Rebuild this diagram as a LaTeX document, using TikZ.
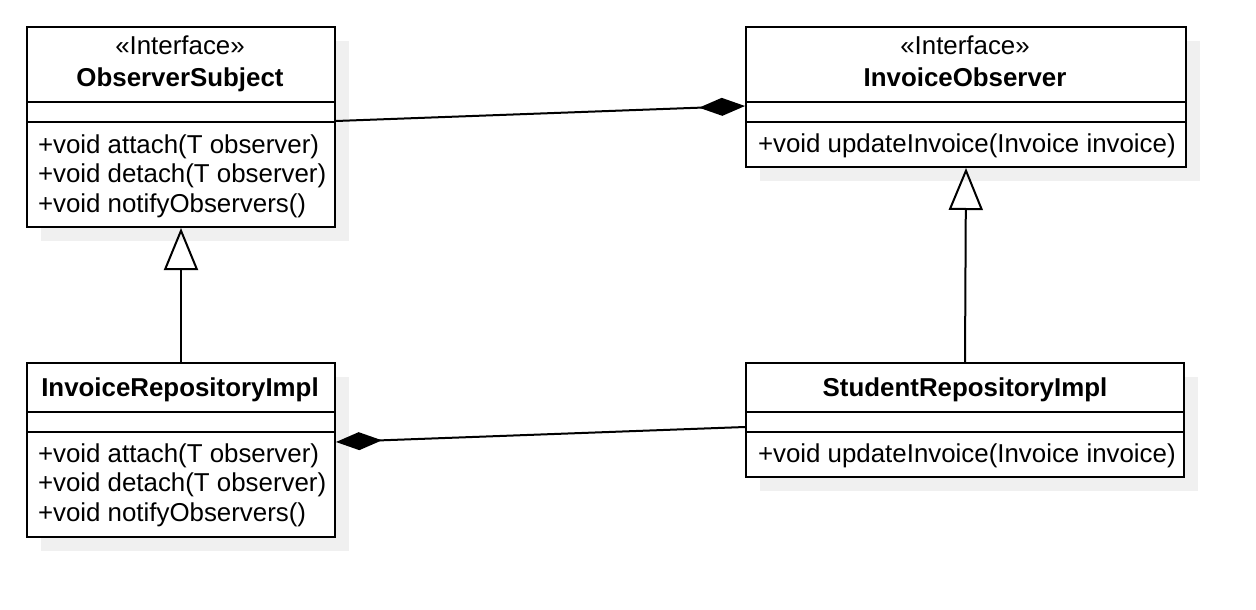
\documentclass[tikz,border=0pt]{standalone}
\usepackage{fontspec}
\setmainfont{Liberation Sans}
\usetikzlibrary{arrows.meta,shadows}

\definecolor{shadowgray}{RGB}{240,240,240}
\newcommand{\umlfont}{\fontsize{19.4}{21}\selectfont}

\tikzset{every picture/.style={line width=1.5pt}}
\tikzset{
  umlbox/.style={draw, fill=white, anchor=north west, inner sep=0pt,
    drop shadow={shadow xshift=10.5pt, shadow yshift=-10.5pt, fill=shadowgray, opacity=1}},
  txt/.style={inner sep=0pt, font=\umlfont},
  ttl/.style={inner sep=0pt, font=\umlfont\bfseries},
  inherit/.style={-{Triangle[open, length=31.5pt, width=25.5pt]}},
  compo/.style={-{Diamond[length=34.5pt, width=13.5pt]}}
}

\begin{document}
\begin{tikzpicture}[x=0.75pt,y=0.75pt,yscale=-1,xscale=1]
\useasboundingbox (0,0) rectangle (1256,610);

%Class boxes
\node [umlbox, minimum width=231pt, minimum height=150pt] (os) at (26,26) {};
\node [umlbox, minimum width=330pt, minimum height=105pt] (io) at (745,26) {};
\node [umlbox, minimum width=231pt, minimum height=130.5pt] (ir) at (26,362) {};
\node [umlbox, minimum width=328.5pt, minimum height=85.5pt] (sr) at (745,362) {};

%Compartment lines (yshift is flipped by yscale=-1)
\draw ([yshift=57pt]os.north west) -- ([yshift=57pt]os.north east) ;
\draw ([yshift=72pt]os.north west) -- ([yshift=72pt]os.north east) ;
\draw ([yshift=57pt]io.north west) -- ([yshift=57pt]io.north east) ;
\draw ([yshift=72pt]io.north west) -- ([yshift=72pt]io.north east) ;
\draw ([yshift=37.5pt]ir.north west) -- ([yshift=37.5pt]ir.north east) ;
\draw ([yshift=52.5pt]ir.north west) -- ([yshift=52.5pt]ir.north east) ;
\draw ([yshift=37.5pt]sr.north west) -- ([yshift=37.5pt]sr.north east) ;
\draw ([yshift=52.5pt]sr.north west) -- ([yshift=52.5pt]sr.north east) ;

% Text Node
\node [txt, anchor=base] (os-st) at (180,55) {«Interface»};
\node [ttl, anchor=base] (os-name) at (180,86) {ObserverSubject};
\node [txt, anchor=base west] (os-m1) at (37,153) {+void attach(T observer)};
\node [txt, anchor=base west] (os-m2) at (37,182.5) {+void detach(T observer)};
\node [txt, anchor=base west] (os-m3) at (37,212) {+void notifyObservers()};
% Text Node
\node [txt, anchor=base] (io-st) at (965,55) {«Interface»};
\node [ttl, anchor=base] (io-name) at (965,86) {InvoiceObserver};
\node [txt, anchor=base west] (io-m1) at (757,152) {+void updateInvoice(Invoice invoice)};
% Text Node
\node [ttl, anchor=base] (ir-name) at (180,396) {InvoiceRepositoryImpl};
\node [txt, anchor=base west] (ir-m1) at (37,462) {+void attach(T observer)};
\node [txt, anchor=base west] (ir-m2) at (37,491.5) {+void detach(T observer)};
\node [txt, anchor=base west] (ir-m3) at (37,521) {+void notifyObservers()};
% Text Node
\node [ttl, anchor=base] (sr-name) at (965,396) {StudentRepositoryImpl};
\node [txt, anchor=base west] (sr-m1) at (757,462) {+void updateInvoice(Invoice invoice)};

%Generalization
\draw [inherit] (ir.north) -- (os.south) ;
\draw [inherit] (sr.north) -- (io.south) ;
%Composition
\draw [compo] ([yshift=-4.5pt]os.east) -- ([yshift=6.75pt]io.west) ;
\draw [compo] ([yshift=5.25pt]sr.west) -- ([yshift=-6pt]ir.east) ;

\end{tikzpicture}
\end{document}
